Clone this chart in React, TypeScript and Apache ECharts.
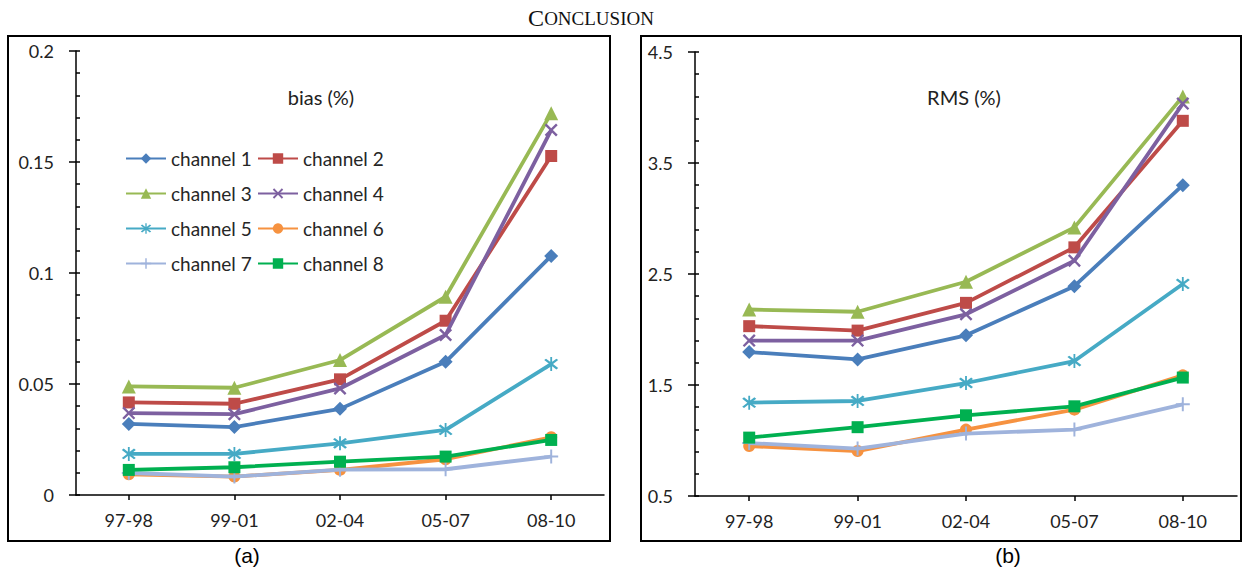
import React, { useEffect, useRef } from 'react';
import * as echarts from 'echarts';

const periods = ['97-98', '99-01', '02-04', '05-07', '08-10'];
const channelNames = ['channel 1', 'channel 2', 'channel 3', 'channel 4', 'channel 5', 'channel 6', 'channel 7', 'channel 8'];

const bias1 = [0.032, 0.0306, 0.0388, 0.060, 0.1077];
const bias2 = [0.0417, 0.0411, 0.0521, 0.0785, 0.1527];
const bias3 = [0.0489, 0.0483, 0.0608, 0.0893, 0.172];
const bias4 = [0.0369, 0.0364, 0.048, 0.0721, 0.1644];
const bias5 = [0.0185, 0.0185, 0.0233, 0.0293, 0.059];
const bias6 = [0.0093, 0.0083, 0.0113, 0.0161, 0.026];
const bias7 = [0.0099, 0.0083, 0.0114, 0.0116, 0.0173];
const bias8 = [0.0113, 0.0125, 0.015, 0.0173, 0.0248];

const rms1 = [1.797, 1.73, 1.948, 2.39, 3.30];
const rms2 = [2.03, 1.99, 2.24, 2.74, 3.88];
const rms3 = [2.18, 2.16, 2.43, 2.92, 4.10];
const rms4 = [1.90, 1.90, 2.137, 2.62, 4.035];
const rms5 = [1.341, 1.356, 1.518, 1.716, 2.41];
const rms6 = [0.95, 0.905, 1.098, 1.278, 1.587];
const rms7 = [0.977, 0.927, 1.062, 1.098, 1.326];
const rms8 = [1.026, 1.12, 1.227, 1.308, 1.567];

const biasSeries = [bias1, bias2, bias3, bias4, bias5, bias6, bias7, bias8];
const rmsSeries = [rms1, rms2, rms3, rms4, rms5, rms6, rms7, rms8];

const colors = ['#4A7EBB', '#BE4B48', '#98B954', '#7D60A0', '#46AAC5', '#F69240', '#9FB3DC', '#00B050'];

const X_PATH = 'path://M0,1.3L1.3,0L5,3.7L8.7,0L10,1.3L6.3,5L10,8.7L8.7,10L5,6.3L1.3,10L0,8.7L3.7,5Z';
const STAR_PATH = 'path://M0,1.3L1.3,0L5,3.7L8.7,0L10,1.3L6.3,5L10,8.7L8.7,10L5,6.3L1.3,10L0,8.7L3.7,5Z M4.35,-1.5H5.65V11.5H4.35Z';
const PLUS_PATH = 'path://M4.3,0H5.7V4.3H10V5.7H5.7V10H4.3V5.7H0V4.3H4.3Z';

const symbols = ['diamond', 'rect', 'triangle', X_PATH, STAR_PATH, 'circle', PLUS_PATH, 'rect'];
const symbolSizes = [14, 12, 14, 13, 14, 12, 14, 12];

const legendCols = [125, 257];
const legendRows = [160, 195, 230, 265];

const FONT = 'Lato, "Open Sans", sans-serif';

export default function App() {
  const ref = useRef<HTMLDivElement>(null);

  useEffect(() => {
    if (!ref.current) return;
    const chart = echarts.init(ref.current, undefined, { renderer: 'svg' });

    const mkSeries = (data: number[], i: number, xi: number, yi: number) => ({
      name: channelNames[i],
      type: 'line',
      xAxisIndex: xi,
      yAxisIndex: yi,
      data,
      symbol: symbols[i],
      symbolSize: symbolSizes[i],
      showSymbol: true,
      lineStyle: { color: colors[i], width: 3.8 },
      itemStyle: { color: colors[i] },
      z: 2 + i,
    });

    const lineSt = () => ({ color: '#000', width: 1.5 });

    const xAxisMain = (gi: number) => ({
      gridIndex: gi,
      type: 'category',
      data: periods,
      boundaryGap: true,
      axisLine: { show: true, onZero: false, lineStyle: lineSt() },
      axisTick: { show: true, alignWithLabel: true, length: 5, lineStyle: lineSt() },
      axisLabel: { color: '#222', fontSize: 18, fontFamily: FONT, margin: 16 },
      splitLine: { show: false },
    });
    const xAxisHidden = (gi: number) => ({
      gridIndex: gi,
      type: 'category',
      data: periods,
      show: false,
    });

    const leftRect = () => ({ left: 76, top: 51, width: 528, height: 444 });
    const rightRect = () => ({ left: 695, top: 52, width: 542, height: 444 });

    const option: any = {
      animation: false,
      backgroundColor: '#fff',
      grid: [leftRect(), rightRect(), leftRect(), rightRect(), rightRect()],
      xAxis: [xAxisMain(0), xAxisMain(1), xAxisHidden(2), xAxisHidden(3), xAxisHidden(4)],
      yAxis: [
        {
          gridIndex: 0, type: 'value', min: 0, max: 0.2, interval: 0.05,
          axisLine: { show: true, onZero: false, lineStyle: lineSt() },
          axisTick: { show: true, inside: true, length: 4, lineStyle: lineSt() },
          minorTick: { show: true, splitNumber: 5, length: 4, lineStyle: lineSt() },
          axisLabel: { color: '#222', fontSize: 18, fontFamily: FONT, margin: 22 },
          splitLine: { show: false },
        },
        {
          gridIndex: 1, type: 'value', min: 0.5, max: 4.5, interval: 0.5,
          axisLine: { show: true, onZero: false, lineStyle: lineSt() },
          axisTick: { show: false },
          axisLabel: {
            color: '#222', fontSize: 18, fontFamily: FONT, margin: 22,
            formatter: (v: number) => (Math.abs(((v - 0.5) % 1)) < 1e-9 ? String(v) : ''),
          },
          splitLine: { show: false },
        },
        {
          gridIndex: 2, type: 'value', min: 0, max: 0.2, interval: 0.05,
          axisLine: { show: false, onZero: false, lineStyle: lineSt() },
          axisTick: { show: true, inside: false, length: 7, lineStyle: lineSt() },
          axisLabel: { show: false },
          splitLine: { show: false },
        },
        {
          gridIndex: 3, type: 'value', min: 0, max: 4, interval: 1,
          axisLine: { show: false, onZero: false, lineStyle: lineSt() },
          axisTick: { show: true, inside: true, length: 4, lineStyle: lineSt() },
          minorTick: { show: true, splitNumber: 5, length: 4, lineStyle: lineSt() },
          axisLabel: { show: false },
          splitLine: { show: false },
        },
        {
          gridIndex: 4, type: 'value', min: 0, max: 4, interval: 1,
          axisLine: { show: false, onZero: false, lineStyle: lineSt() },
          axisTick: { show: true, inside: false, length: 7, lineStyle: lineSt() },
          axisLabel: { show: false },
          splitLine: { show: false },
        },
      ],
      legend: channelNames.map((n, i) => ({
        data: [n],
        left: legendCols[i % 2],
        top: legendRows[Math.floor(i / 2)] - 11,
        itemWidth: 40,
        itemHeight: 13,
        padding: 0,
        selectedMode: false,
        textStyle: { fontSize: 19, fontFamily: FONT, color: '#262626' },
      })),
      series: [
        ...biasSeries.map((d, i) => mkSeries(d, i, 0, 0)),
        ...rmsSeries.map((d, i) => mkSeries(d, i, 1, 1)),
      ],
      graphic: [
        { type: 'rect', shape: { x: 8, y: 36, width: 602, height: 505 }, style: { fill: 'none', stroke: '#000', lineWidth: 2 }, silent: true },
        { type: 'rect', shape: { x: 641, y: 36, width: 600, height: 505 }, style: { fill: 'none', stroke: '#000', lineWidth: 2 }, silent: true },
        {
          type: 'text', x: 591, y: 18,
          style: {
            text: '{a|C}{b|ONCLUSION}',
            align: 'center', verticalAlign: 'middle',
            rich: {
              a: { fontSize: 24, fontFamily: '"Liberation Serif", "Times New Roman", serif', fill: '#111' },
              b: { fontSize: 19, fontFamily: '"Liberation Serif", "Times New Roman", serif', fill: '#111' },
            },
          },
        },
        { type: 'text', x: 321, y: 97, style: { text: 'bias (%)', fontSize: 20, fontFamily: FONT, fill: '#222', align: 'center', verticalAlign: 'middle' } },
        { type: 'text', x: 964, y: 97, style: { text: 'RMS (%)', fontSize: 20, fontFamily: FONT, fill: '#222', align: 'center', verticalAlign: 'middle' } },
        { type: 'text', x: 247, y: 555, style: { text: '(a)', fontSize: 21, fontFamily: '"Liberation Sans", Arial, sans-serif', fill: '#000', align: 'center', verticalAlign: 'middle' } },
        { type: 'text', x: 1008, y: 555, style: { text: '(b)', fontSize: 21, fontFamily: '"Liberation Sans", Arial, sans-serif', fill: '#000', align: 'center', verticalAlign: 'middle' } },
      ],
    };

    chart.setOption(option);
    return () => chart.dispose();
  }, []);

  return (
    <div
      ref={ref}
      style={{ position: 'fixed', left: 0, top: 0, width: 1248, height: 571, background: '#fff' }}
    />
  );
}
